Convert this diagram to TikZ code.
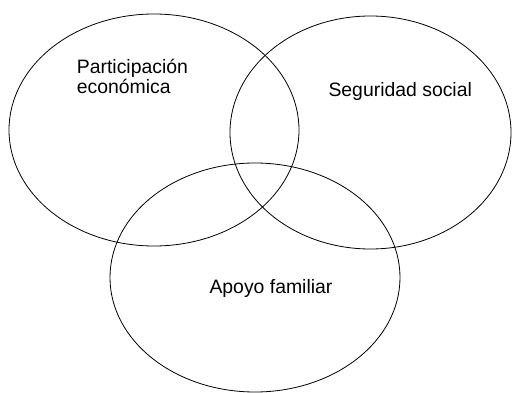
\documentclass[tikz,border=0pt]{standalone}
\usepackage{fontspec}
\setmainfont{Liberation Sans}
\usepackage{tikz}
\tikzset{circulo/.style={black, line width=0.8pt}, rotulo/.style={anchor=base west, inner sep=0pt, align=left, font=\fontsize{19.4}{19.5}\selectfont}}

\begin{document}
\begin{tikzpicture}[x=1pt, y=-1pt]
                        \useasboundingbox (0,0) rectangle (512,393);
                        \draw[circulo] (154,130) ellipse (145 and 116);
                        \draw[circulo] (370.5,132.5) ellipse (140.5 and 116.5);
                        \draw[circulo] (255,277.5) ellipse (145 and 114.5);
                        \node[rotulo] (economica) at (76.7,93.3) {Participación\\económica};
                        \node[rotulo] (seguridad) at (328.3,96.7) {Seguridad social};
                        \node[rotulo] (apoyo) at (209.3,294) {Apoyo familiar};
                    \end{tikzpicture}
\end{document}
